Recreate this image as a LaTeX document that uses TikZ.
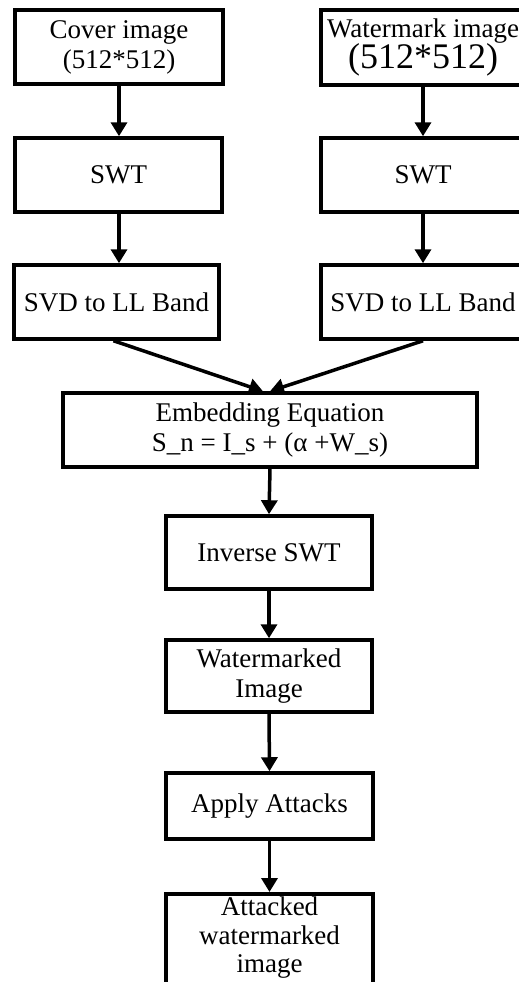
\documentclass[tikz,border=0pt]{standalone}
\usepackage{fontspec}
\setmainfont{Liberation Serif}
\usetikzlibrary{arrows.meta}
\tikzset{
  blk/.style={draw, line width=3.5pt, minimum height=74pt, inner sep=0pt, align=center,
    font=\fontsize{27}{30}\selectfont},
  arr/.style={line width=3.5pt, -{Triangle[width=16pt,length=14pt]}},
}
\begin{document}
\begin{tikzpicture}[x=1pt,y=-1pt]
\useasboundingbox (0,0) rectangle (519,982);
\clip (0,0) rectangle (519,982);
\node[blk, minimum width=208pt] (cover) at (119,47) {Cover image\\(512*512)};
\node[blk, minimum width=204pt, minimum height=75pt] (wm) at (423,47.5) {Watermark image\\{\fontsize{36}{36}\selectfont (512*512)}};
\node[blk, minimum width=207pt] (swt1) at (118.5,175) {SWT};
\node[blk, minimum width=204pt] (swt2) at (423,175) {SWT};
\node[blk, minimum width=205pt] (svd1) at (116.5,302) {SVD to LL Band};
\node[blk, minimum width=204pt] (svd2) at (423,302) {SVD to LL Band};
\node[blk, minimum width=414pt] (embed) at (270,430) {Embedding Equation\\S\_n = I\_s + (α +W\_s)};
\node[blk, minimum width=206pt, minimum height=73pt] (inv) at (269,552.5) {Inverse SWT};
\node[blk, minimum width=206pt, minimum height=72pt] (wmk) at (269,676) {Watermarked\\Image};
\node[blk, minimum width=207pt, minimum height=66pt] (apply) at (269.5,806) {Apply Attacks};
\node[blk, minimum width=207pt, minimum height=100pt, anchor=north] (att) at (269.5,892) {};
\node[font=\fontsize{27}{28.5}\selectfont, align=center, inner sep=0pt, anchor=north] (attt) at (269.5,897) {Attacked\\watermarked\\image};
\draw[arr] (cover.south -| 119,0) -- (swt1.north -| 119,0);
\draw[arr] (wm.south -| 423,0) -- (swt2.north -| 423,0);
\draw[arr] (swt1.south -| 119,0) -- (svd1.north -| 119,0);
\draw[arr] (swt2.south -| 423,0) -- (svd2.north -| 423,0);
\coordinate (e1) at ([xshift=-7pt]embed.north);
\coordinate (e2) at ([xshift=0pt]embed.north);
\draw[arr] ([xshift=-3pt]svd1.south) -- (e1);
\draw[arr] (svd2.south) -- (e2);
\draw[arr] (embed.south) -- (inv.north);
\draw[arr] (inv.south) -- (wmk.north);
\draw[arr] (wmk.south) -- (apply.north);
\draw[arr] (apply.south) -- (att.north);
\end{tikzpicture}
\end{document}
